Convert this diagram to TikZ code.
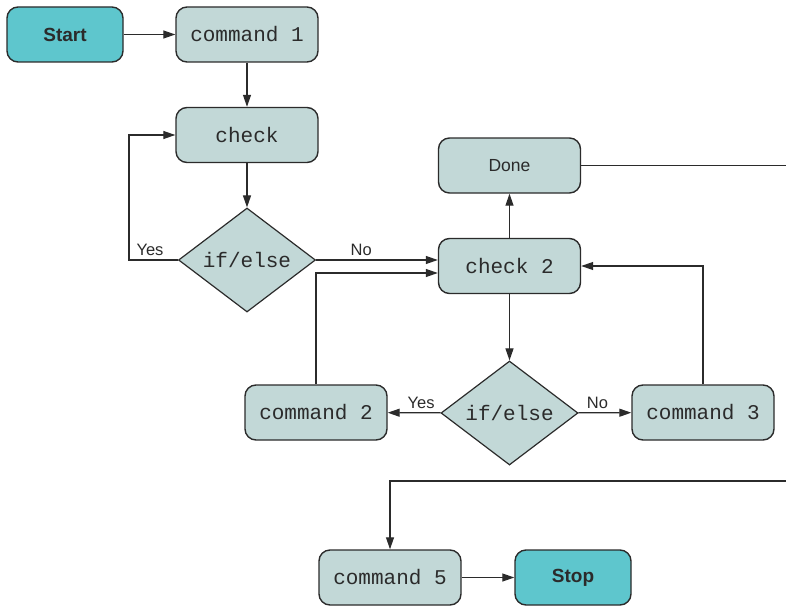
\documentclass[tikz,border=0pt]{standalone}
\usepackage{fontspec}
\setmainfont{Liberation Sans}
\setmonofont{Liberation Mono}
\usepackage{tikz}
\usetikzlibrary{positioning,shapes.geometric,arrows.meta}
\definecolor{termfill}{HTML}{5EC6CD}
\definecolor{stepfill}{HTML}{C2D8D7}
\definecolor{inkgrey}{HTML}{2B2B2B}
\tikzset{box/.style={draw=inkgrey, line width=1.4pt, rounded corners=11pt, fill=stepfill, minimum width=142pt, minimum height=55pt, inner sep=0pt, text=inkgrey},
	term/.style={box, fill=termfill, minimum width=116pt, font=\fontsize{19}{22}\selectfont\bfseries},
	cmd/.style={box, font=\fontsize{21}{24}\selectfont\ttfamily},
	tag/.style={box, font=\fontsize{17.5}{20}\selectfont},
	choice/.style={draw=inkgrey, line width=1.2pt, diamond, fill=stepfill, minimum width=137pt, minimum height=104pt, inner sep=0pt, text=inkgrey, font=\fontsize{21}{24}\selectfont\ttfamily},
	flow/.style={draw=inkgrey, line width=1.2pt, -{Triangle[length=12pt,width=8pt]}},
	lbl/.style={text=inkgrey, font=\fontsize{16.5}{19}\selectfont, inner sep=4pt}}

\begin{document}
\begin{tikzpicture}[x=1pt, y=-1pt]
				\useasboundingbox (0,0) rectangle (786,607);

				\node[term] (start) at (65,34.5) {Start};
				\node[cmd] (cmda) at (247,34.5) {command 1};
				\node[cmd] (chka) at (247,135) {check};
				\node[choice] (ifa) at (247,260) {if/else};
				\node[tag] (done) at (509.5,165.5) {Done};
				\node[cmd] (chkb) at (509.5,266) {check 2};
				\node[choice] (ifb) at (509.5,413) {if/else};
				\node[cmd] (cmdb) at (316,412.5) {command 2};
				\node[cmd] (cmdc) at (703,412.5) {command 3};
				\node[cmd] (cmde) at (390,577.5) {command 5};
				\node[term] (stop) at (573,577.5) {Stop};
				\coordinate (edgea) at (786,165.5);
				\coordinate (edgeb) at (786,481);

				\draw[flow] (start) -- (cmda);
				\draw[flow] (cmda) -- (chka);
				\draw[flow] (chka) -- (ifa);
				\draw[flow] (ifa.west) -- node[lbl, above, pos=0.57] {Yes} ++(-49,0) |- (chka.west);
				\draw[flow] (ifa.east) -- node[lbl, above, pos=0.37] {No} (ifa.east -| chkb.west);
				\draw[flow] (cmdb.north) |- ([yshift=-7pt]chkb.west);
				\draw[flow] (chkb) -- (ifb);
				\draw[flow] (ifb) -- node[lbl, above, pos=0.37] {Yes} (cmdb);
				\draw[flow] (ifb) -- node[lbl, above, pos=0.36] {No} (cmdc);
				\draw[flow] (cmdc.north) |- (chkb.east);
				\draw[flow] (chkb) -- (done);
				\draw[draw=inkgrey, line width=1.2pt] (done.east) -- (edgea);
				\draw[flow] (edgeb) -| (cmde.north);
				\draw[flow] (cmde) -- (stop);

\end{tikzpicture}
\end{document}
